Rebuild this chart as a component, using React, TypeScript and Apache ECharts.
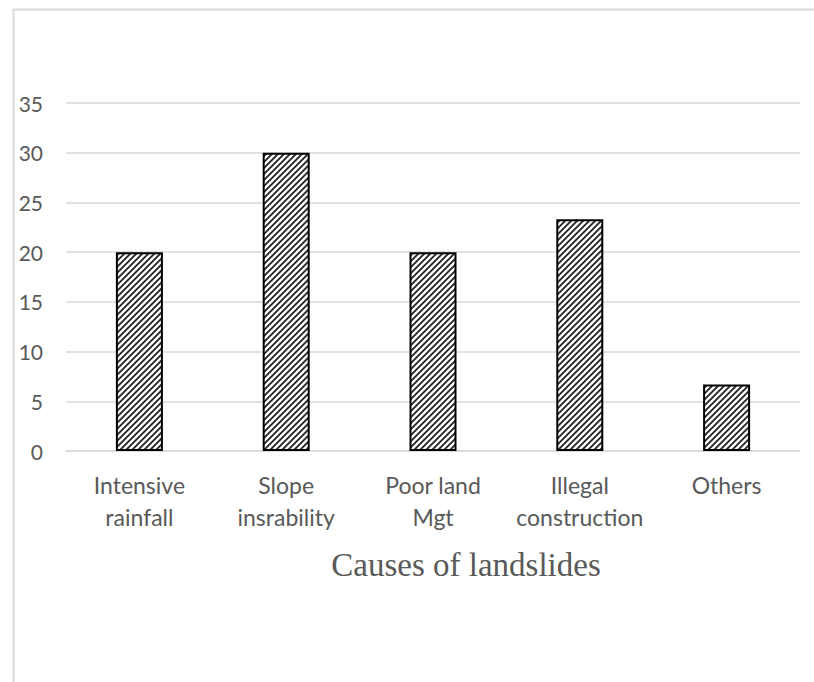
import React, { useEffect, useRef } from "react";
import * as echarts from "echarts";

const categories = [
  "Intensive\nrainfall",
  "Slope\ninsrability",
  "Poor land\nMgt",
  "Illegal\nconstruction",
  "Others",
];
const values = [20, 30, 20, 23.3, 6.7];
const yTicks = { min: 0, max: 35, interval: 5 };
const xAxisTitle = "Causes of landslides";

function makePattern(): HTMLCanvasElement {
  const c = document.createElement("canvas");
  c.width = 6;
  c.height = 6;
  const ctx = c.getContext("2d")!;
  ctx.fillStyle = "#ffffff";
  ctx.fillRect(0, 0, 6, 6);
  ctx.strokeStyle = "#222222";
  ctx.lineWidth = 1.8;
  ctx.beginPath();
  ctx.moveTo(-1, 7);
  ctx.lineTo(7, -1);
  ctx.moveTo(-4, 4);
  ctx.lineTo(4, -4);
  ctx.moveTo(2, 10);
  ctx.lineTo(10, 2);
  ctx.stroke();
  return c;
}

export default function App() {
  const ref = useRef<HTMLDivElement>(null);
  useEffect(() => {
    if (!ref.current) return;
    const chart = echarts.init(ref.current, undefined, { renderer: "svg" });
    const pattern = makePattern();
    chart.setOption({
      animation: false,
      backgroundColor: "#ffffff",
      graphic: [
        {
          type: "rect",
          left: 11,
          top: 7,
          shape: { width: 820, height: 700 },
          style: { fill: "none", stroke: "#d9d9d9", lineWidth: 2 },
          silent: true,
        },
        {
          type: "text",
          x: 466,
          y: 565,
          style: {
            text: xAxisTitle,
            fill: "#595959",
            font: "33px 'Liberation Serif', serif",
            align: "center",
            verticalAlign: "middle",
          },
          silent: true,
        },
      ],
      grid: { left: 66, right: 14, top: 103, bottom: 231 },
      xAxis: {
        type: "category",
        data: categories,
        axisLine: { show: true, lineStyle: { color: "#d9d9d9", width: 1.5 } },
        axisTick: { show: false },
        axisLabel: {
          color: "#595959",
          fontFamily: "Lato, 'Open Sans', sans-serif",
          fontSize: 23,
          lineHeight: 32,
          margin: 18,
          interval: 0,
        },
      },
      yAxis: {
        type: "value",
        min: yTicks.min,
        max: yTicks.max,
        interval: yTicks.interval,
        axisLine: { show: false },
        axisTick: { show: false },
        splitLine: { lineStyle: { color: "#d9d9d9", width: 1.5 } },
        axisLabel: {
          color: "#595959",
          fontFamily: "Lato, 'Open Sans', sans-serif",
          fontSize: 21,
          margin: 23,
        },
      },
      series: [
        {
          type: "bar",
          data: values,
          barWidth: 47,
          itemStyle: {
            color: { image: pattern, repeat: "repeat" },
            borderColor: "#000000",
            borderWidth: 2,
          },
        },
      ],
    });
    return () => chart.dispose();
  }, []);
  return (
    <div
      ref={ref}
      style={{ position: "fixed", left: 0, top: 0, width: 814, height: 682 }}
    />
  );
}
